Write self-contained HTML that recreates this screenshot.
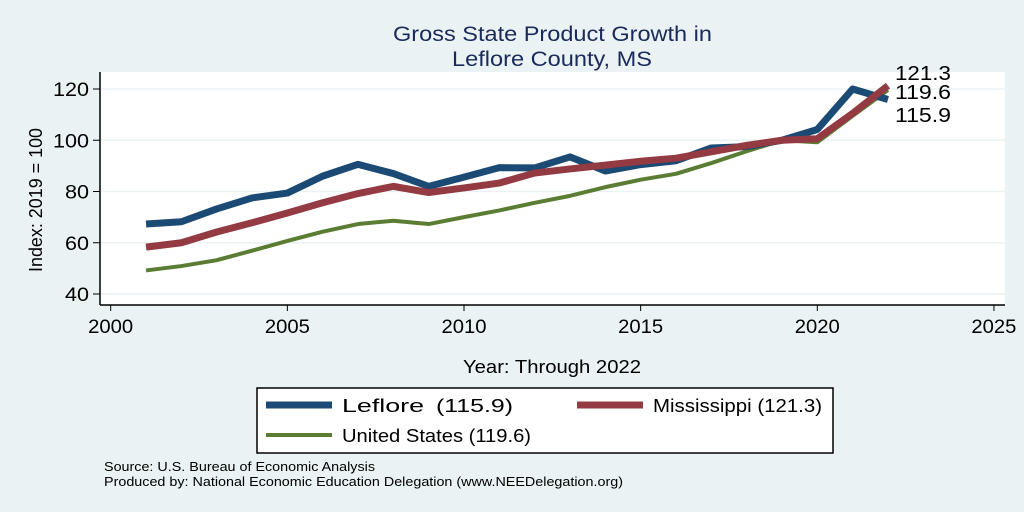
<!DOCTYPE html>
<html><head><meta charset="utf-8"><style>
body{margin:0;background:#eaf2f3;font-family:"Liberation Sans",sans-serif;}
svg{display:block}
</style></head><body>
<svg width="1024" height="512" xmlns="http://www.w3.org/2000/svg">
<rect width="1024" height="512" fill="#eaf2f3"/>
<text x="393" y="41" font-size="21" fill="#1a2a5a" textLength="319" lengthAdjust="spacingAndGlyphs">Gross State Product Growth in</text>
<text x="452" y="66" font-size="21" fill="#1a2a5a" textLength="200" lengthAdjust="spacingAndGlyphs">Leflore County, MS</text>
<rect x="100" y="72" width="905" height="233" fill="#fff"/>
<g id="grid"></g>
<g id="axes"></g>
<g id="series"></g>
<text x="42" y="272" font-size="18" fill="#000" transform="rotate(-90 42 272)" textLength="144" lengthAdjust="spacingAndGlyphs">Index: 2019 = 100</text>
<text x="463" y="373" font-size="18" fill="#000" textLength="178" lengthAdjust="spacingAndGlyphs">Year: Through 2022</text>
<g>
<rect x="257" y="388" width="576" height="65" fill="#fff" stroke="#000" stroke-width="1.5"/>
<line x1="266" y1="405" x2="332" y2="405" stroke="#1b4a74" stroke-width="7"/>
<text x="342" y="412" font-size="18" textLength="82" lengthAdjust="spacingAndGlyphs">Leflore</text>
<text x="436" y="412" font-size="18" textLength="77" lengthAdjust="spacingAndGlyphs">(115.9)</text>
<line x1="577" y1="405" x2="643" y2="405" stroke="#933a43" stroke-width="7"/>
<text x="653" y="412" font-size="18" textLength="169" lengthAdjust="spacingAndGlyphs">Mississippi (121.3)</text>
<line x1="266" y1="435" x2="332" y2="435" stroke="#5a7d33" stroke-width="4"/>
<text x="342" y="442" font-size="18" textLength="189" lengthAdjust="spacingAndGlyphs">United States (119.6)</text>
</g>
<text x="104" y="471" font-size="12.5" textLength="271" lengthAdjust="spacingAndGlyphs">Source: U.S. Bureau of Economic Analysis</text>
<text x="104" y="486" font-size="12.5" textLength="519" lengthAdjust="spacingAndGlyphs">Produced by: National Economic Education Delegation (www.NEEDelegation.org)</text>
</svg>
<script>
const years=[2001,2002,2003,2004,2005,2006,2007,2008,2009,2010,2011,2012,2013,2014,2015,2016,2017,2018,2019,2020,2021,2022];
const leflore=[67.3,68.2,73.2,77.5,79.4,86.0,90.6,87.0,82.0,85.6,89.3,89.2,93.5,88.0,90.5,92.0,97.0,97.5,100,104.2,120.0,115.9];
const mississippi=[58.3,60.0,64.2,67.8,71.6,75.6,79.2,82.0,79.6,81.4,83.3,87.2,88.8,90.3,91.8,93.0,95.5,98.0,100,100.6,110.5,121.3];
const us=[49.2,50.9,53.2,56.9,60.7,64.3,67.3,68.6,67.3,70.0,72.6,75.6,78.3,81.7,84.6,86.9,91.1,95.7,100,99.2,109.5,119.6];
const xTicks=[2000,2005,2010,2015,2020,2025];
const yTicks=[40,60,80,100,120];
const X=v=>110.7+(v-2000)*35.33;
const Y=v=>89+(120-v)*2.5625;
const NS="http://www.w3.org/2000/svg";
function mk(tag,attrs,parent){const e=document.createElementNS(NS,tag);for(const k in attrs)e.setAttribute(k,attrs[k]);parent.appendChild(e);return e;}
const grid=document.getElementById('grid'),axes=document.getElementById('axes'),ser=document.getElementById('series');
yTicks.forEach(t=>{
 const g=mk('line',{x1:100,x2:1005,y1:Y(t),y2:Y(t),stroke:'#eaf2f3','stroke-width':1.5},grid);
 
 
 const tk=mk('line',{x1:93,x2:100,y1:Y(t),y2:Y(t),stroke:'#000'},axes);
 
 
 const w=String(t).length*12;
 const tx=mk('text',{x:89-w,y:Y(t)+7,'font-size':19,textLength:w,lengthAdjust:'spacingAndGlyphs'},axes);tx.textContent=t;
 
 
});
xTicks.forEach(t=>{
 const tk=mk('line',{x1:X(t),x2:X(t),y1:305,y2:311,stroke:'#000'},axes);
 
 
 const tx=mk('text',{x:X(t)-22.5,y:333,'font-size':19,textLength:45,lengthAdjust:'spacingAndGlyphs'},axes);tx.textContent=t;
 
 
});
const ya=mk('line',{x1:100,x2:100,y1:72,y2:305,stroke:'#000','stroke-width':1.5},axes);


const xa=mk('line',{x1:100,x2:1005,y1:305,y2:305,stroke:'#000','stroke-width':1.5},axes);


function line(vals,color,w,name){
 const p=mk('polyline',{points:vals.map((v,i)=>X(years[i])+','+Y(v)).join(' '),fill:'none',stroke:color,'stroke-width':w,'stroke-linejoin':'round'},ser);
 
 
}
line(us,'#5a7d33',4,'line-us');
line(leflore,'#1b4a74',7,'line-leflore');
line(mississippi,'#933a43',7,'line-mississippi');
const last=years.length-1;
const labs=[[mississippi[last],'end-label-mississippi'],[us[last],'end-label-us'],[leflore[last],'end-label-leflore']];
labs.forEach(([v,n],i)=>{
 const yy=[80,99,122][i];
 const t=mk('text',{x:X(years[last])+7,y:yy,'font-size':20,textLength:56,lengthAdjust:'spacingAndGlyphs'},ser);t.textContent=v.toFixed(1);
 
 
});
</script>
</body></html>
